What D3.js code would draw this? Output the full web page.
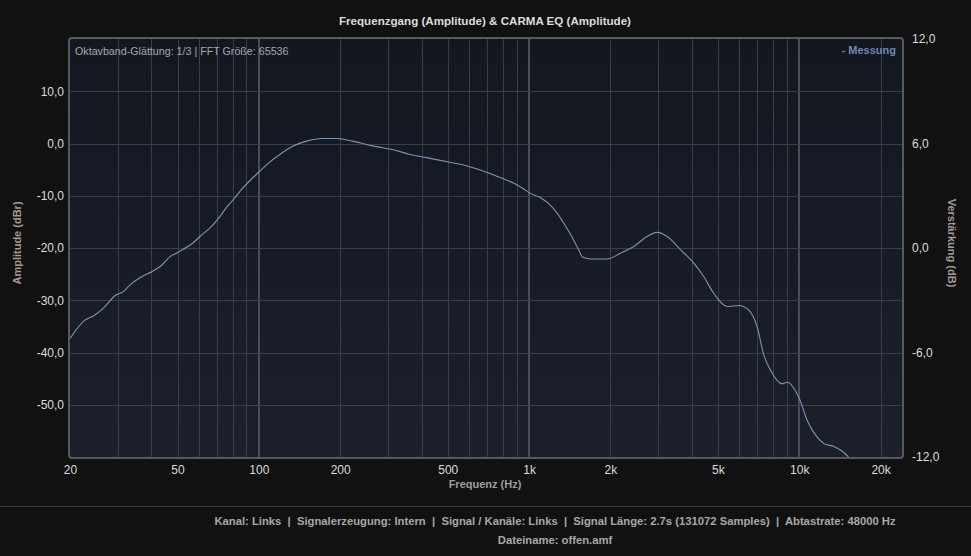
<!DOCTYPE html>
<html>
<head>
<meta charset="utf-8">
<script src="https://cdn.jsdelivr.net/npm/d3@7"></script>
<style>
  html, body { margin: 0; padding: 0; background: #111111; }
  svg { display: block; font-family: "Liberation Sans", Arial, sans-serif; }
</style>
</head>
<body>
<svg id="chart" width="971" height="556"></svg>
<script>
// ---- data ----
const freqHz = [20, 22.7, 24.4, 26.6, 29.4, 31.6, 33.3, 36.8, 40.3, 43.7, 46.8, 50.3, 57.1, 60.5, 67, 71.9, 77.3, 80.6, 86.6, 99.8, 108.8, 119.6, 134, 150, 172, 196, 222, 272, 315, 363, 418, 497, 590, 696, 790, 880, 956, 1000, 1105, 1225, 1413, 1524, 1576, 1700, 1944, 2178, 2441, 2735, 2978, 3245, 3633, 4071, 4434, 4828, 5411, 5976, 6507, 6985, 7395, 7830, 8650, 9020, 10000, 10700, 11650, 12330, 13430, 14430, 15260, 15600];
const amplitudeDb = [-37.3, -33.8, -33.0, -31.5, -29.1, -28.3, -27.1, -25.5, -24.5, -23.3, -21.7, -20.8, -19.0, -17.8, -15.8, -13.9, -11.7, -10.7, -8.7, -5.5, -3.7, -2.1, -0.5, 0.45, 0.95, 0.95, 0.45, -0.6, -1.2, -2.1, -2.7, -3.5, -4.3, -5.5, -6.6, -7.6, -8.7, -9.4, -10.4, -12.3, -17.1, -20.3, -21.7, -22.1, -22.1, -21.0, -19.7, -17.8, -17.0, -17.8, -20.3, -22.9, -25.5, -28.7, -31.2, -31.0, -31.9, -35.1, -40.5, -43.4, -46.0, -45.7, -48.8, -53.0, -56.2, -57.4, -58.0, -58.9, -60.1, -60.8];
const xTickValues = [20, 50, 100, 200, 500, 1000, 2000, 5000, 10000, 20000];
const xTickLabels = ["20", "50", "100", "200", "500", "1k", "2k", "5k", "10k", "20k"];
const xGridValues = [30, 40, 50, 60, 70, 80, 90, 200, 300, 400, 500, 600, 700, 800, 900, 2000, 3000, 4000, 5000, 6000, 7000, 8000, 9000, 20000];
const xDecades = [100, 1000, 10000];
const yLeftTicks = [10, 0, -10, -20, -30, -40, -50];
const yRightTicks = [12, 6, 0, -6, -12];
const footerLine1 = "Kanal: Links  |  Signalerzeugung: Intern  |  Signal / Kanäle: Links  |  Signal Länge: 2.7s (131072 Samples)  |  Abtastrate: 48000 Hz";
const footerLine2 = "Dateiname: offen.amf";

// ---- layout ----
const svg = d3.select("#chart");
const L = 70, R = 902, T = 39, B = 457;
const x = d3.scaleLog().domain([20, 24000]).range([L, R]);
const y = d3.scaleLinear().domain([-60, 20]).range([B, T]);
const y2 = d3.scaleLinear().domain([-12, 12]).range([B, T]);
const fmt = v => d3.format(".1f")(v).replace(".", ",").replace("−", "-");

svg.append("rect").attr("width", 971).attr("height", 556).attr("fill", "#111111");

const defs = svg.append("defs");
const grad = defs.append("linearGradient").attr("id", "bg").attr("x1", 0).attr("y1", 0).attr("x2", 0).attr("y2", 1);
grad.append("stop").attr("offset", "0%").attr("stop-color", "#131720");
grad.append("stop").attr("offset", "100%").attr("stop-color", "#1c202b");
defs.append("clipPath").attr("id", "clip").append("rect")
  .attr("x", L).attr("y", T).attr("width", R - L).attr("height", B - T);

svg.append("rect").attr("x", L).attr("y", T).attr("width", R - L).attr("height", B - T)
  .attr("fill", "url(#bg)");

// grid
const g = svg.append("g").attr("clip-path", "url(#clip)");
g.selectAll(".vg").data(xGridValues).join("line")
  .attr("x1", d => Math.round(x(d)) + 0.5).attr("x2", d => Math.round(x(d)) + 0.5)
  .attr("y1", T).attr("y2", B).attr("stroke", "#3a3e47").attr("stroke-width", 1);
g.selectAll(".vd").data(xDecades).join("line")
  .attr("x1", d => Math.round(x(d))).attr("x2", d => Math.round(x(d)))
  .attr("y1", T).attr("y2", B).attr("stroke", "#4a4e57").attr("stroke-width", 2);
g.selectAll(".hg").data(yLeftTicks).join("line")
  .attr("x1", L).attr("x2", R)
  .attr("y1", d => Math.round(y(d)) + 0.5).attr("y2", d => Math.round(y(d)) + 0.5)
  .attr("stroke", "#3a3e47").attr("stroke-width", 1);

// curve
const line = d3.line().x((d, i) => x(freqHz[i])).y(d => y(d)).curve(d3.curveMonotoneX);
g.append("path").datum(amplitudeDb).attr("d", line)
  .attr("fill", "none").attr("stroke", "#7f95b6").attr("stroke-width", 1.1);

// border
svg.append("rect").attr("x", L - 1).attr("y", T - 1).attr("width", R - L + 2).attr("height", B - T + 2)
  .attr("rx", 3).attr("fill", "none").attr("stroke", "#555a60").attr("stroke-width", 2);

// axes
const xAxis = d3.axisBottom(x).tickValues(xTickValues).tickFormat((d, i) => xTickLabels[i]).tickSize(0).tickPadding(6);
const ax = svg.append("g").attr("transform", `translate(0,${B + 2})`).call(xAxis);
const yAxisL = d3.axisLeft(y).tickValues(yLeftTicks).tickFormat(fmt).tickSize(0).tickPadding(5);
const ayl = svg.append("g").attr("transform", `translate(${L - 1},0)`).call(yAxisL);
const yAxisR = d3.axisRight(y2).tickValues(yRightTicks).tickFormat(fmt).tickSize(0).tickPadding(10);
const ayr = svg.append("g").attr("transform", `translate(${R},0)`).call(yAxisR);
[ax, ayl, ayr].forEach(a => {
  a.select(".domain").remove();
  a.selectAll("text").attr("fill", "#dddddd").attr("font-size", 12).attr("font-family", "Liberation Sans, Arial, sans-serif");
});

// titles
svg.append("text").attr("x", 485).attr("y", 25).attr("text-anchor", "middle")
  .attr("font-size", 11.6).attr("font-weight", "bold").attr("fill", "#dddddd")
  .text("Frequenzgang (Amplitude) & CARMA EQ (Amplitude)");
svg.append("text").attr("x", 485).attr("y", 488).attr("text-anchor", "middle")
  .attr("font-size", 11).attr("font-weight", "bold").attr("fill", "#a39c95")
  .text("Frequenz (Hz)");
svg.append("text").attr("transform", "translate(21,243) rotate(-90)").attr("text-anchor", "middle")
  .attr("font-size", 11).attr("font-weight", "bold").attr("fill", "#a39c95")
  .text("Amplitude (dBr)");
svg.append("text").attr("transform", "translate(948,243) rotate(90)").attr("text-anchor", "middle")
  .attr("font-size", 11).attr("font-weight", "bold").attr("fill", "#a39c95")
  .text("Verstärkung (dB)");

// annotations
svg.append("text").attr("x", 75).attr("y", 55).attr("font-size", 10.7).attr("fill", "#a8a8a8")
  .text("Oktavband-Glättung: 1/3 | FFT Größe: 65536");
svg.append("text").attr("x", 896).attr("y", 54).attr("text-anchor", "end")
  .attr("font-size", 11).attr("font-weight", "bold").attr("fill", "#6f88b0")
  .text("- Messung");

// footer
svg.append("line").attr("x1", 0).attr("x2", 971).attr("y1", 506.5).attr("y2", 506.5)
  .attr("stroke", "#3a3a3a").attr("stroke-width", 1);
svg.append("text").attr("x", 555).attr("y", 525).attr("text-anchor", "middle")
  .attr("font-size", 11.25).attr("font-weight", "bold").attr("fill", "#a8a8a8")
  .attr("xml:space", "preserve").style("white-space", "pre")
  .text(footerLine1);
svg.append("text").attr("x", 555).attr("y", 544).attr("text-anchor", "middle")
  .attr("font-size", 11.25).attr("font-weight", "bold").attr("fill", "#a8a8a8")
  .text(footerLine2);
</script>
</body>
</html>
